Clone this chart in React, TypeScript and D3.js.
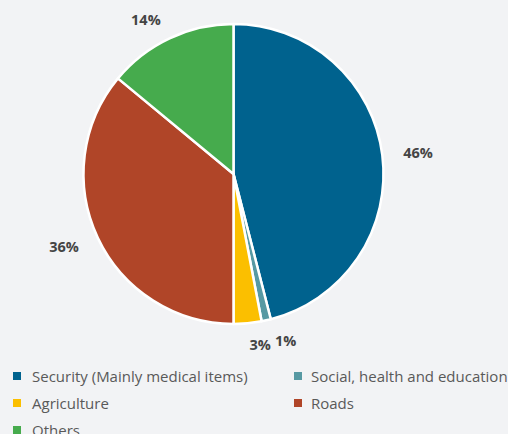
import React from "react";
import * as d3 from "d3";

const categories = [
  "Security (Mainly medical items)",
  "Social, health and education",
  "Agriculture",
  "Roads",
  "Others",
];
const values = [46, 1, 3, 36, 14];
const labels = ["46%", "1%", "3%", "36%", "14%"];
const colors = ["#00628e", "#5799a3", "#fbbf00", "#b04528", "#46ab4d"];

const W = 508;
const H = 434;
const LABEL_FONT = "700 14.5px 'Open Sans', sans-serif";

function measure(text: string): number {
  if (typeof document === "undefined") return text.length * 9;
  const c = document.createElement("canvas").getContext("2d");
  if (!c) return text.length * 9;
  c.font = LABEL_FONT;
  return c.measureText(text).width;
}

export default function App() {
  const cx = 233.5;
  const cy = 174;
  const r = 150;
  const pie = d3.pie<number>().sort(null).value((d) => d)(values);
  const arc = d3.arc<d3.PieArcDatum<number>>().innerRadius(0).outerRadius(r);
  const labelR = 171;

  // label layout with simple horizontal de-overlap on the right side
  const placed = pie.map((p, i) => {
    const a = (p.startAngle + p.endAngle) / 2;
    return {
      i,
      a,
      x: Math.sin(a) * labelR,
      y: -Math.cos(a) * labelR,
      right: Math.sin(a) >= 0,
      w: measure(labels[i]),
    };
  });
  const rightSide = placed
    .filter((d) => d.right)
    .sort((a, b) => b.a - a.a);
  for (let k = 1; k < rightSide.length; k++) {
    const prev = rightSide[k - 1];
    const cur = rightSide[k];
    if (Math.abs(prev.y - cur.y) < 16) {
      const minX = prev.x + prev.w + 4;
      if (cur.x < minX) cur.x = minX;
    }
  }

  const legendCols = [13, 294];
  const legendRows = [376, 403, 430];

  return (
    <svg
      width={W}
      height={H}
      style={{ position: "absolute", left: 0, top: 0, background: "#f2f3f5" }}
    >
      <rect x={0} y={0} width={W} height={H} fill="#f2f3f5" />
      <g transform={`translate(${cx},${cy})`}>
        {pie.map((p, i) => (
          <path
            key={i}
            d={arc(p) || ""}
            fill={colors[i]}
            stroke="#ffffff"
            strokeWidth={2.5}
            strokeLinejoin="round"
          />
        ))}
        {placed.map((d) => (
          <text
            key={d.i}
            x={d.x}
            y={d.y}
            textAnchor={d.right ? "start" : "end"}
            dominantBaseline="central"
            fontFamily="Open Sans, sans-serif"
            fontWeight={700}
            fontSize={14.5}
            fill="#444444"
          >
            {labels[d.i]}
          </text>
        ))}
      </g>
      <g>
        {categories.map((c, i) => {
          const col = i % 2;
          const row = Math.floor(i / 2);
          const x = legendCols[col];
          const y = legendRows[row];
          return (
            <g key={i} transform={`translate(${x},${y})`}>
              <rect x={0} y={-4} width={8} height={8} fill={colors[i]} />
              <text
                x={col === 0 ? 19 : 17}
                y={0}
                dominantBaseline="central"
                fontFamily="Open Sans, sans-serif"
                fontSize={15}
                fill="#595959"
              >
                {c}
              </text>
            </g>
          );
        })}
      </g>
    </svg>
  );
}
